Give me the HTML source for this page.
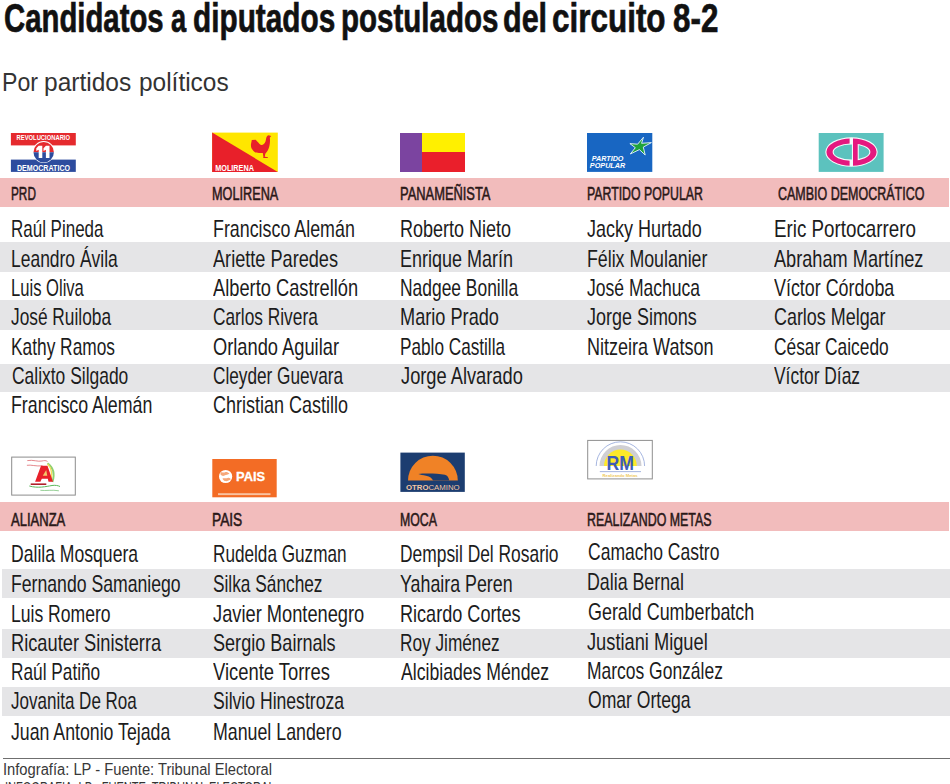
<!DOCTYPE html>
<html><head><meta charset="utf-8"><style>
html,body{margin:0;padding:0;background:#fff;}
body{width:950px;height:784px;position:relative;overflow:hidden;font-family:"Liberation Sans",sans-serif;}
.t{position:absolute;white-space:nowrap;transform-origin:0 0;}
.pk{position:absolute;left:0;width:949px;height:29px;background:#f2bcbc;}
.gr{position:absolute;background:#e5e5e7;}
</style></head><body>
<div class="t" style="left:3.87px;top:-2.51px;font-size:41px;line-height:41px;font-weight:700;color:#111;transform:scaleX(0.7152);-webkit-text-stroke:0.7px #111;">Candidatos</div>
<div class="t" style="left:170.69px;top:-2.51px;font-size:41px;line-height:41px;font-weight:700;color:#111;transform:scaleX(0.6636);-webkit-text-stroke:0.7px #111;">a</div>
<div class="t" style="left:193.20px;top:-2.51px;font-size:41px;line-height:41px;font-weight:700;color:#111;transform:scaleX(0.7260);-webkit-text-stroke:0.7px #111;">diputados</div>
<div class="t" style="left:340.59px;top:-2.51px;font-size:41px;line-height:41px;font-weight:700;color:#111;transform:scaleX(0.7196);-webkit-text-stroke:0.7px #111;">postulados</div>
<div class="t" style="left:503.36px;top:-2.51px;font-size:41px;line-height:41px;font-weight:700;color:#111;transform:scaleX(0.7444);-webkit-text-stroke:0.7px #111;">del</div>
<div class="t" style="left:552.12px;top:-2.51px;font-size:41px;line-height:41px;font-weight:700;color:#111;transform:scaleX(0.7669);-webkit-text-stroke:0.7px #111;">circuito</div>
<div class="t" style="left:673.09px;top:-2.51px;font-size:41px;line-height:41px;font-weight:700;color:#111;transform:scaleX(0.7649);-webkit-text-stroke:0.7px #111;">8-2</div>
<div class="t" style="left:1.62px;top:68.79px;font-size:26px;line-height:26px;font-weight:400;color:#333;transform:scaleX(0.8895);">Por</div>
<div class="t" style="left:44.41px;top:68.79px;font-size:26px;line-height:26px;font-weight:400;color:#333;transform:scaleX(0.9433);">partidos</div>
<div class="t" style="left:139.02px;top:68.79px;font-size:26px;line-height:26px;font-weight:400;color:#333;transform:scaleX(0.9398);">políticos</div>
<div class="pk" style="top:178.4px"></div>
<div class="gr" style="top:242.0px;height:29.6px;left:0px;width:950px"></div>
<div class="gr" style="top:300.4px;height:29.4px;left:0px;width:950px"></div>
<div class="gr" style="top:363.5px;height:28.8px;left:0px;width:950px"></div>
<div class="t" style="left:11.34px;top:184.66px;font-size:18px;line-height:18px;font-weight:400;color:#2a1818;transform:scaleX(0.6556);-webkit-text-stroke:0.55px #2a1818;">PRD</div>
<div class="t" style="left:212.19px;top:184.66px;font-size:18px;line-height:18px;font-weight:400;color:#2a1818;transform:scaleX(0.7054);-webkit-text-stroke:0.55px #2a1818;">MOLIRENA</div>
<div class="t" style="left:400.08px;top:184.66px;font-size:18px;line-height:18px;font-weight:400;color:#2a1818;transform:scaleX(0.7160);-webkit-text-stroke:0.55px #2a1818;">PANAMEÑISTA</div>
<div class="t" style="left:586.92px;top:184.66px;font-size:18px;line-height:18px;font-weight:400;color:#2a1818;transform:scaleX(0.6839);-webkit-text-stroke:0.55px #2a1818;">PARTIDO POPULAR</div>
<div class="t" style="left:778.31px;top:184.66px;font-size:18px;line-height:18px;font-weight:400;color:#2a1818;transform:scaleX(0.6938);-webkit-text-stroke:0.55px #2a1818;">CAMBIO DEMOCRÁTICO</div>
<div class="t" style="left:10.99px;top:216.98px;font-size:24px;line-height:24px;font-weight:400;color:#1c1c1c;transform:scaleX(0.7070);">Raúl Pineda</div>
<div class="t" style="left:10.94px;top:246.58px;font-size:24px;line-height:24px;font-weight:400;color:#1c1c1c;transform:scaleX(0.7276);">Leandro Ávila</div>
<div class="t" style="left:11.02px;top:275.78px;font-size:24px;line-height:24px;font-weight:400;color:#1c1c1c;transform:scaleX(0.6913);">Luis Oliva</div>
<div class="t" style="left:11.08px;top:305.18px;font-size:24px;line-height:24px;font-weight:400;color:#1c1c1c;transform:scaleX(0.7210);">José Ruiloba</div>
<div class="t" style="left:10.96px;top:334.88px;font-size:24px;line-height:24px;font-weight:400;color:#1c1c1c;transform:scaleX(0.7220);">Kathy Ramos</div>
<div class="t" style="left:11.67px;top:364.08px;font-size:24px;line-height:24px;font-weight:400;color:#1c1c1c;transform:scaleX(0.7266);">Calixto Silgado</div>
<div class="t" style="left:11.42px;top:393.38px;font-size:24px;line-height:24px;font-weight:400;color:#1c1c1c;transform:scaleX(0.7410);">Francisco Alemán</div>
<div class="t" style="left:212.51px;top:216.98px;font-size:24px;line-height:24px;font-weight:400;color:#1c1c1c;transform:scaleX(0.7436);">Francisco Alemán</div>
<div class="t" style="left:213.40px;top:246.58px;font-size:24px;line-height:24px;font-weight:400;color:#1c1c1c;transform:scaleX(0.7558);">Ariette Paredes</div>
<div class="t" style="left:213.40px;top:275.78px;font-size:24px;line-height:24px;font-weight:400;color:#1c1c1c;transform:scaleX(0.7611);">Alberto Castrellón</div>
<div class="t" style="left:212.98px;top:305.18px;font-size:24px;line-height:24px;font-weight:400;color:#1c1c1c;transform:scaleX(0.7207);">Carlos Rivera</div>
<div class="t" style="left:212.94px;top:334.88px;font-size:24px;line-height:24px;font-weight:400;color:#1c1c1c;transform:scaleX(0.7616);">Orlando Aguilar</div>
<div class="t" style="left:212.98px;top:364.08px;font-size:24px;line-height:24px;font-weight:400;color:#1c1c1c;transform:scaleX(0.7166);">Cleyder Guevara</div>
<div class="t" style="left:212.95px;top:393.38px;font-size:24px;line-height:24px;font-weight:400;color:#1c1c1c;transform:scaleX(0.7494);">Christian Castillo</div>
<div class="t" style="left:400.30px;top:216.98px;font-size:24px;line-height:24px;font-weight:400;color:#1c1c1c;transform:scaleX(0.7503);">Roberto Nieto</div>
<div class="t" style="left:400.30px;top:246.58px;font-size:24px;line-height:24px;font-weight:400;color:#1c1c1c;transform:scaleX(0.7493);">Enrique Marín</div>
<div class="t" style="left:400.35px;top:275.78px;font-size:24px;line-height:24px;font-weight:400;color:#1c1c1c;transform:scaleX(0.7255);">Nadgee Bonilla</div>
<div class="t" style="left:400.29px;top:305.18px;font-size:24px;line-height:24px;font-weight:400;color:#1c1c1c;transform:scaleX(0.7570);">Mario Prado</div>
<div class="t" style="left:400.37px;top:334.88px;font-size:24px;line-height:24px;font-weight:400;color:#1c1c1c;transform:scaleX(0.7159);">Pablo Castilla</div>
<div class="t" style="left:400.54px;top:364.08px;font-size:24px;line-height:24px;font-weight:400;color:#1c1c1c;transform:scaleX(0.7608);">Jorge Alvarado</div>
<div class="t" style="left:587.45px;top:216.98px;font-size:24px;line-height:24px;font-weight:400;color:#1c1c1c;transform:scaleX(0.7487);">Jacky Hurtado</div>
<div class="t" style="left:587.32px;top:246.58px;font-size:24px;line-height:24px;font-weight:400;color:#1c1c1c;transform:scaleX(0.7398);">Félix Moulanier</div>
<div class="t" style="left:587.47px;top:275.78px;font-size:24px;line-height:24px;font-weight:400;color:#1c1c1c;transform:scaleX(0.7305);">José Machuca</div>
<div class="t" style="left:587.45px;top:305.18px;font-size:24px;line-height:24px;font-weight:400;color:#1c1c1c;transform:scaleX(0.7483);">Jorge Simons</div>
<div class="t" style="left:587.30px;top:334.88px;font-size:24px;line-height:24px;font-weight:400;color:#1c1c1c;transform:scaleX(0.7509);">Nitzeira Watson</div>
<div class="t" style="left:773.53px;top:216.98px;font-size:24px;line-height:24px;font-weight:400;color:#1c1c1c;transform:scaleX(0.7827);">Eric Portocarrero</div>
<div class="t" style="left:774.00px;top:246.58px;font-size:24px;line-height:24px;font-weight:400;color:#1c1c1c;transform:scaleX(0.7569);">Abraham Martínez</div>
<div class="t" style="left:774.00px;top:275.78px;font-size:24px;line-height:24px;font-weight:400;color:#1c1c1c;transform:scaleX(0.7451);">Víctor Córdoba</div>
<div class="t" style="left:773.95px;top:305.18px;font-size:24px;line-height:24px;font-weight:400;color:#1c1c1c;transform:scaleX(0.7466);">Carlos Melgar</div>
<div class="t" style="left:773.98px;top:334.88px;font-size:24px;line-height:24px;font-weight:400;color:#1c1c1c;transform:scaleX(0.7223);">César Caicedo</div>
<div class="t" style="left:774.00px;top:364.08px;font-size:24px;line-height:24px;font-weight:400;color:#1c1c1c;transform:scaleX(0.7246);">Víctor Díaz</div>
<div class="pk" style="top:502.0px"></div>
<div class="gr" style="top:569.4px;height:29.1px;left:1.7px;width:948.3px"></div>
<div class="gr" style="top:628.6px;height:29.2px;left:1.7px;width:948.3px"></div>
<div class="gr" style="top:687.4px;height:29.0px;left:1.7px;width:948.3px"></div>
<div class="t" style="left:11.00px;top:510.56px;font-size:18px;line-height:18px;font-weight:400;color:#2a1818;transform:scaleX(0.7240);-webkit-text-stroke:0.55px #2a1818;">ALIANZA</div>
<div class="t" style="left:211.54px;top:510.56px;font-size:18px;line-height:18px;font-weight:400;color:#2a1818;transform:scaleX(0.7632);-webkit-text-stroke:0.55px #2a1818;">PAIS</div>
<div class="t" style="left:400.12px;top:510.56px;font-size:18px;line-height:18px;font-weight:400;color:#2a1818;transform:scaleX(0.6849);-webkit-text-stroke:0.55px #2a1818;">MOCA</div>
<div class="t" style="left:587.01px;top:510.56px;font-size:18px;line-height:18px;font-weight:400;color:#2a1818;transform:scaleX(0.6894);-webkit-text-stroke:0.55px #2a1818;">REALIZANDO METAS</div>
<div class="t" style="left:11.13px;top:541.98px;font-size:24px;line-height:24px;font-weight:400;color:#1c1c1c;transform:scaleX(0.7326);">Dalila Mosquera</div>
<div class="t" style="left:11.43px;top:571.98px;font-size:24px;line-height:24px;font-weight:400;color:#1c1c1c;transform:scaleX(0.7351);">Fernando Samaniego</div>
<div class="t" style="left:11.14px;top:601.58px;font-size:24px;line-height:24px;font-weight:400;color:#1c1c1c;transform:scaleX(0.7323);">Luis Romero</div>
<div class="t" style="left:11.08px;top:631.18px;font-size:24px;line-height:24px;font-weight:400;color:#1c1c1c;transform:scaleX(0.7607);">Ricauter Sinisterra</div>
<div class="t" style="left:11.16px;top:660.28px;font-size:24px;line-height:24px;font-weight:400;color:#1c1c1c;transform:scaleX(0.7190);">Raúl Patiño</div>
<div class="t" style="left:11.09px;top:689.48px;font-size:24px;line-height:24px;font-weight:400;color:#1c1c1c;transform:scaleX(0.7090);">Jovanita De Roa</div>
<div class="t" style="left:11.06px;top:719.58px;font-size:24px;line-height:24px;font-weight:400;color:#1c1c1c;transform:scaleX(0.7381);">Juan Antonio Tejada</div>
<div class="t" style="left:213.07px;top:541.98px;font-size:24px;line-height:24px;font-weight:400;color:#1c1c1c;transform:scaleX(0.7152);">Rudelda Guzman</div>
<div class="t" style="left:212.68px;top:571.98px;font-size:24px;line-height:24px;font-weight:400;color:#1c1c1c;transform:scaleX(0.7200);">Silka Sánchez</div>
<div class="t" style="left:212.64px;top:601.58px;font-size:24px;line-height:24px;font-weight:400;color:#1c1c1c;transform:scaleX(0.7609);">Javier Montenegro</div>
<div class="t" style="left:212.65px;top:631.18px;font-size:24px;line-height:24px;font-weight:400;color:#1c1c1c;transform:scaleX(0.7534);">Sergio Bairnals</div>
<div class="t" style="left:213.40px;top:660.28px;font-size:24px;line-height:24px;font-weight:400;color:#1c1c1c;transform:scaleX(0.7664);">Vicente Torres</div>
<div class="t" style="left:212.67px;top:689.48px;font-size:24px;line-height:24px;font-weight:400;color:#1c1c1c;transform:scaleX(0.7331);">Silvio Hinestroza</div>
<div class="t" style="left:212.52px;top:719.58px;font-size:24px;line-height:24px;font-weight:400;color:#1c1c1c;transform:scaleX(0.7409);">Manuel Landero</div>
<div class="t" style="left:400.35px;top:541.98px;font-size:24px;line-height:24px;font-weight:400;color:#1c1c1c;transform:scaleX(0.7245);">Dempsil Del Rosario</div>
<div class="t" style="left:400.06px;top:571.98px;font-size:24px;line-height:24px;font-weight:400;color:#1c1c1c;transform:scaleX(0.7423);">Yahaira Peren</div>
<div class="t" style="left:400.29px;top:601.58px;font-size:24px;line-height:24px;font-weight:400;color:#1c1c1c;transform:scaleX(0.7535);">Ricardo Cortes</div>
<div class="t" style="left:400.36px;top:631.18px;font-size:24px;line-height:24px;font-weight:400;color:#1c1c1c;transform:scaleX(0.7184);">Roy Jiménez</div>
<div class="t" style="left:401.30px;top:660.28px;font-size:24px;line-height:24px;font-weight:400;color:#1c1c1c;transform:scaleX(0.7353);">Alcibiades Méndez</div>
<div class="t" style="left:588.07px;top:540.38px;font-size:24px;line-height:24px;font-weight:400;color:#1c1c1c;transform:scaleX(0.7298);">Camacho Castro</div>
<div class="t" style="left:587.32px;top:570.38px;font-size:24px;line-height:24px;font-weight:400;color:#1c1c1c;transform:scaleX(0.7409);">Dalia Bernal</div>
<div class="t" style="left:588.05px;top:599.98px;font-size:24px;line-height:24px;font-weight:400;color:#1c1c1c;transform:scaleX(0.7462);">Gerald Cumberbatch</div>
<div class="t" style="left:587.44px;top:629.58px;font-size:24px;line-height:24px;font-weight:400;color:#1c1c1c;transform:scaleX(0.7603);">Justiani Miguel</div>
<div class="t" style="left:587.34px;top:658.68px;font-size:24px;line-height:24px;font-weight:400;color:#1c1c1c;transform:scaleX(0.7277);">Marcos González</div>
<div class="t" style="left:588.07px;top:687.88px;font-size:24px;line-height:24px;font-weight:400;color:#1c1c1c;transform:scaleX(0.7324);">Omar Ortega</div>
<div style="position:absolute;left:3px;top:757.8px;width:947.4px;height:1.3px;background:#6f6f6f"></div>
<div class="t" style="left:3.02px;top:762.46px;font-size:16px;line-height:16px;font-weight:400;color:#383838;transform:scaleX(0.9203);">Infografía: LP - Fuente: Tribunal Electoral</div>
<div class="t" style="left:4.50px;top:781.46px;font-size:16px;line-height:16px;font-weight:400;color:#333;transform:scaleX(0.6900);">INFOGRAFIA: LP - FUENTE: TRIBUNAL ELECTORAL</div>
<!-- PRD -->
<svg style="position:absolute;left:0;top:120px" width="90" height="60" viewBox="0 120 90 60">
<rect x="10.9" y="133" width="64.9" height="12.4" fill="#e52a2e"/>
<rect x="10.9" y="159.6" width="64.9" height="12.3" fill="#2d4c9e"/>
<circle cx="43.7" cy="152" r="10.9" fill="#fff"/>
<path d="M33.5 152.2 A10.2 10.2 0 0 1 53.9 152.2 Z" fill="#e52a2e"/>
<path d="M33.5 152.2 A10.2 10.2 0 0 0 53.9 152.2 Z" fill="#2d4c9e"/>
<path d="M38.7 145.7 L42.3 145.7 L42.3 157.9 L38.7 157.9 L38.7 149.8 L36.3 151 L36.3 148.3 Z M45.9 145.7 L49.5 145.7 L49.5 157.9 L45.9 157.9 L45.9 149.8 L43.5 151 L43.5 148.3 Z" fill="#fff"/>
<text x="16.6" y="139.8" font-family="Liberation Sans" font-weight="700" font-size="7.2" fill="#fff" textLength="53.4" lengthAdjust="spacingAndGlyphs">REVOLUCIONARIO</text>
<text x="16.9" y="170.9" font-family="Liberation Sans" font-weight="700" font-size="8.6" fill="#fff" textLength="53.2" lengthAdjust="spacingAndGlyphs">DEMOCRATICO</text>
</svg>
<!-- MOLIRENA -->
<svg style="position:absolute;left:200px;top:120px" width="90" height="60" viewBox="200 120 90 60">
<rect x="212.1" y="132.6" width="65.7" height="39.3" fill="#ffe600"/>
<path d="M212.1 132.6 L277.8 171.9 L212.1 171.9 Z" fill="#e8202a"/>
<path d="M251.8 140 L255.7 139.8 C257.5 141.5 259 144 261 145 C263 145.3 264.5 144 265.5 141.5 L266.3 137.8 C266.8 136 267.5 135.3 268.6 135.2 L271.2 136 L269.8 137.8 C270.2 140 270 143 269.6 145 C269 148 268 150.5 266.3 152.5 L265.3 153.8 L264.8 156.8 L267.9 157.2 L267.9 158.1 L263.2 158.1 L263.4 156.8 L262.8 153 C260 153.2 257 153 255.5 152.6 C253.8 151.5 252.5 150 251.6 148.5 C251 147 250.8 145.5 251 144 Z" fill="#e8202a"/>
<text x="215.2" y="170.7" font-family="Liberation Sans" font-weight="700" font-size="8.6" fill="#fff" textLength="38.8" lengthAdjust="spacingAndGlyphs">MOLIRENA</text>
</svg>
<!-- PANAMENISTA -->
<div style="position:absolute;left:400px;top:133px;width:22px;height:39px;background:#7b44a0"></div>
<div style="position:absolute;left:422px;top:133px;width:43px;height:19.2px;background:#fff000"></div>
<div style="position:absolute;left:422px;top:152.2px;width:43px;height:19.8px;background:#ea1f2b"></div>
<!-- PARTIDO POPULAR -->
<svg style="position:absolute;left:580px;top:120px" width="90" height="60" viewBox="580 120 90 60">
<rect x="587" y="133" width="65.3" height="38.9" fill="#1866c2"/>
<path d="M643.5 137.2 L641.6 143.3 L651.4 142.6 L643.3 147.1 L645.2 155.0 L639.4 149.6 L630.3 154.0 L635.3 147.7 L629.9 143.6 L637.6 144.2 Z" fill="#1fa33b" stroke="#e8f4ff" stroke-width="0.9" stroke-linejoin="round"/>
<text x="591.7" y="160.6" font-family="Liberation Sans" font-weight="700" font-style="italic" font-size="7" fill="#fff" textLength="31.8" lengthAdjust="spacingAndGlyphs">PARTIDO</text>
<text x="589.8" y="167.7" font-family="Liberation Sans" font-weight="700" font-style="italic" font-size="7" fill="#fff" textLength="35.5" lengthAdjust="spacingAndGlyphs">POPULAR</text>
</svg>
<!-- CAMBIO DEMOCRATICO -->
<svg style="position:absolute;left:810px;top:120px" width="90" height="60" viewBox="810 120 90 60">
<defs><clipPath id="cdl"><rect x="810" y="130" width="39.6" height="45"/></clipPath><clipPath id="cdr"><rect x="853" y="130" width="40" height="45"/></clipPath></defs>
<rect x="818.7" y="133" width="64.9" height="38.9" fill="#5cc2be"/>
<path d="M825.30 152.05 a26.200000000000003 14.75 0 1 0 52.40 0 a26.200000000000003 14.75 0 1 0 -52.40 0 Z M833.70 152.05 a17.799999999999997 7.5 0 1 0 35.60 0 a17.799999999999997 7.5 0 1 0 -35.60 0 Z" fill="#f4fbfb" fill-rule="evenodd"/>
<rect x="851.9" y="142" width="6.9" height="20" fill="#f4fbfb"/>
<path d="M826.40 152.05 a25.1 13.65 0 1 0 50.20 0 a25.1 13.65 0 1 0 -50.20 0 Z M832.60 152.05 a18.9 8.6 0 1 0 37.80 0 a18.9 8.6 0 1 0 -37.80 0 Z" fill="#e5187f" fill-rule="evenodd" clip-path="url(#cdl)"/>
<path d="M826.40 152.05 a25.1 13.65 0 1 0 50.20 0 a25.1 13.65 0 1 0 -50.20 0 Z M832.60 152.05 a18.9 8.6 0 1 0 37.80 0 a18.9 8.6 0 1 0 -37.80 0 Z" fill="#e5187f" fill-rule="evenodd" clip-path="url(#cdr)"/>
<rect x="853" y="142" width="4.7" height="20" fill="#e5187f"/>
</svg>
<!-- ALIANZA -->
<svg style="position:absolute;left:0;top:445px" width="90" height="60" viewBox="0 445 90 60">
<rect x="11.7" y="457.1" width="63.6" height="38" fill="#fff" stroke="#8c8c8c" stroke-width="1"/>
<path d="M27.3 460.6 C33 459.5 38 462 42 461 C44 460.5 46 460.3 47.5 461.5" fill="none" stroke="#e27a80" stroke-width="0.9"/>
<path d="M26.9 465.3 C31 464.5 36 466.6 42.5 465.8" fill="none" stroke="#e27a80" stroke-width="0.9"/>
<path d="M47.5 463.2 C53 467 55 474 52.5 482" fill="none" stroke="#8fd070" stroke-width="1.8"/>
<path d="M47.5 464 C51.5 468 52.5 474 51 481" fill="none" stroke="#f5dc5a" stroke-width="1.2"/>
<path d="M35.1 481.7 L41 465.7 L47.5 465.7 L53 481.7 L48.5 481.7 L47.8 478.8 L41.8 478.8 L40.4 481.7 Z" fill="#e8202a"/>
<path d="M42.8 475.8 L47.3 475.8 L46.2 470 Z" fill="#f4c96a"/>
<path d="M30.7 484.2 L46.3 484.2" stroke="#b0202a" stroke-width="1.6"/>
<path d="M29.3 486 C38 488.5 46 486.5 52 485.5 C55 485 58 485.5 60 486.5" fill="none" stroke="#5cb85c" stroke-width="1"/>
<path d="M40.4 490.3 C46 491 52 489.5 58.9 490.8" fill="none" stroke="#7cc47c" stroke-width="0.8"/>
</svg>
<!-- PAIS -->
<svg style="position:absolute;left:200px;top:445px" width="90" height="60" viewBox="200 445 90 60">
<rect x="212.3" y="459" width="64.4" height="38.3" fill="#f36c25"/>
<circle cx="225.6" cy="476.5" r="6.6" fill="#fff"/>
<path d="M220.5 472.5 C222 471.5 223.5 473 225 472.3 C226.5 471.6 228 472.5 229.5 473.5 C228 475 226 474.5 224.5 475.5 C223 476.5 221.5 475.5 220.5 474.5 Z M222.5 478.5 C224 477.5 226 479 227.5 478 C229 477.2 230.5 478.2 230.8 479.2 C229 480.5 227 481.5 225 481 C223.8 480.7 223 479.8 222.5 478.5 Z" fill="#f6a779"/>
<text x="236" y="481.3" font-family="Liberation Sans" font-weight="700" font-size="12.8" fill="#fff" stroke="#fff" stroke-width="0.3" textLength="29.1" lengthAdjust="spacingAndGlyphs">PAIS</text>
<rect x="218" y="493.2" width="52.5" height="1.9" fill="#f8c3a2"/>
</svg>
<!-- MOCA -->
<svg style="position:absolute;left:395px;top:445px" width="80" height="55" viewBox="395 445 80 55">
<rect x="400.4" y="452.6" width="64.4" height="39.3" fill="#1c3d70"/>
<path d="M408 480.5 A24.9 24.9 0 0 1 457.8 480.5 Z" fill="#f08226"/>
<path d="M418.4 473.9 C425 473.2 438 473.4 444.9 474.8 C447.5 475.3 448.8 477.5 449.2 480.6 L433.1 480.6 C432 478 430 476.5 426 475.7 C423 475.1 420.5 474.6 418.4 473.9 Z" fill="#1c3d70"/>
<text x="406" y="489.5" font-family="Liberation Sans" font-size="7.6" fill="#f4c7a4" textLength="53.6" lengthAdjust="spacingAndGlyphs"><tspan font-weight="700">OTRO</tspan>CAMINO</text>
</svg>
<!-- REALIZANDO METAS -->
<svg style="position:absolute;left:580px;top:430px" width="80" height="55" viewBox="580 430 80 55">
<rect x="587.7" y="440.4" width="64.6" height="38.5" fill="#fff" stroke="#8f8f8f" stroke-width="1"/>
<path d="M596.2 466 A24.2 24.2 0 0 1 644.6 466" fill="none" stroke="#8fa3d8" stroke-width="0.8"/>
<path d="M599.5 466 A21 21 0 0 1 641.5 466 L635 466 A14.5 14.5 0 0 0 606 466 Z" fill="#cfcfd4"/>
<path d="M604 466 A16.4 16.4 0 0 1 636.8 466 Z" fill="#fde92a"/>
<text x="620.2" y="469.8" text-anchor="middle" font-family="Liberation Sans" font-weight="700" font-size="19.5" fill="#3e5cb8" textLength="27.5" lengthAdjust="spacingAndGlyphs">RM</text>
<rect x="599.8" y="471.3" width="41.2" height="0.8" fill="#8fa3d8"/>
<text x="602.6" y="477.3" font-family="Liberation Sans" font-weight="700" font-size="4" fill="#eec85a" textLength="35" lengthAdjust="spacingAndGlyphs">Realizando Metas</text>
</svg>

</body></html>
